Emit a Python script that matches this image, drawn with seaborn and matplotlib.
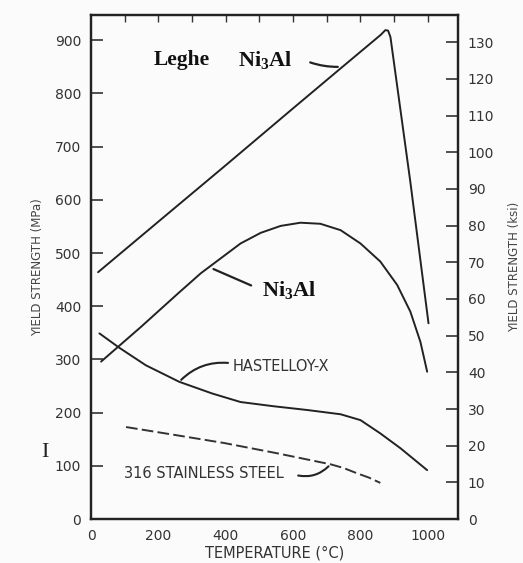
import numpy as np
import pandas as pd
import matplotlib
matplotlib.use("Agg")
import matplotlib.pyplot as plt
import seaborn as sns

# ---- data ----
leghe_T = [21, 200, 400, 600, 741, 860, 874, 882, 889, 948, 1002]
leghe_Y = [464, 559, 665, 772, 847, 910, 919, 918, 906, 634, 368]

ni3al_T = [30, 148, 260, 326, 385, 444, 504, 563, 622, 681, 741, 800, 859, 909, 948, 978, 998]
ni3al_Y = [296, 361, 425, 462, 490, 518, 538, 551, 557, 555, 543, 518, 484, 440, 390, 333, 277]

hast_T = [25, 84, 163, 262, 360, 444, 543, 642, 741, 800, 859, 919, 998]
hast_Y = [349, 322, 289, 258, 236, 220, 212, 205, 197, 186, 161, 133, 92]

ss_T = [104, 250, 395, 550, 711, 750, 790, 825, 859]
ss_Y = [173, 158, 143, 124, 103, 96, 86, 78, 68]

x_ticks = [0, 200, 400, 600, 800, 1000]
y_ticks = [0, 100, 200, 300, 400, 500, 600, 700, 800, 900]
ksi_ticks = list(range(0, 140, 10))

sns.set_style("white")
plt.rcParams['font.family'] = ['DejaVu Sans']
plt.rcParams['mathtext.default'] = 'regular'

fig = plt.figure(figsize=(5.23, 5.63), dpi=100)
fig.patch.set_facecolor("#fbfbfb")
ax = fig.add_axes([0.174, 0.078, 0.702, 0.895])
ax.set_facecolor("#fbfbfb")

frames = []
for name, T, Y in [("leghe", leghe_T, leghe_Y), ("ni3al", ni3al_T, ni3al_Y),
                   ("hast", hast_T, hast_Y), ("ss", ss_T, ss_Y)]:
    frames.append(pd.DataFrame({"T": T, "Y": Y, "alloy": name}))
df = pd.concat(frames, ignore_index=True)

for name in ["leghe", "ni3al", "hast"]:
    sns.lineplot(data=df[df.alloy == name], x="T", y="Y", ax=ax, color="#222222",
                 lw=1.4, sort=False, estimator=None)
sns.lineplot(data=df[df.alloy == "ss"], x="T", y="Y", ax=ax, color="#333333",
             lw=1.4, sort=False, estimator=None, dashes=False, linestyle=(0, (6, 2.2)))

ax.set_xlim(0, 1090)
ax.set_ylim(0, 947)
ax.set_xticks(x_ticks)
ax.set_xticks([100, 300, 500, 700, 900], minor=True)
ax.set_yticks(y_ticks)
ax.tick_params(axis="both", direction="in", length=8.5, width=1.2, labelsize=10,
               colors="#333333", pad=7)
ax.tick_params(axis="x", which="minor", direction="in", length=5, width=1)
ax.set_xlabel("TEMPERATURE (°C)", fontsize=10.5, color="#333333", labelpad=2)
ax.set_ylabel("YIELD STRENGTH (MPa)", fontsize=8.5, color="#444444", labelpad=8)
for s in ax.spines.values():
    s.set_linewidth(1.6)
    s.set_color("#222222")

top = ax.secondary_xaxis("top")
top.set_xticks(list(range(100, 1100, 100)))
top.tick_params(direction="in", length=5, width=1, labeltop=False, colors="#333333")
top.spines["top"].set_visible(False)

ax2 = ax.twinx()
ax2.set_ylim(0, 947 / 6.895)
ax2.set_yticks(ksi_ticks)
ax2.tick_params(axis="y", direction="in", length=8.5, width=1.2, labelsize=10,
                colors="#333333", pad=7)
ax2.set_ylabel("YIELD STRENGTH (ksi)", fontsize=8.5, color="#444444", labelpad=10)
for s in ax2.spines.values():
    s.set_linewidth(1.6)
    s.set_color("#222222")

serif = dict(family="Liberation Serif", fontweight="bold", color="#111111")
ax.text(186, 862, "Leghe", fontsize=15.5, ha="left", va="center", **serif)
ax.text(435, 862, "Ni$_3$Al", fontsize=16, ha="left", va="center", **serif)
ax.annotate("", xy=(741, 850), xytext=(643, 860),
            arrowprops=dict(arrowstyle="-", color="#222222", lw=1.6,
                            connectionstyle="arc3,rad=0.1"))
ax.text(508, 430, "Ni$_3$Al", fontsize=16, ha="left", va="center", **serif)
ax.annotate("", xy=(356, 472), xytext=(483, 437),
            arrowprops=dict(arrowstyle="-", color="#222222", lw=1.6,
                            connectionstyle="arc3,rad=0.0"))
ax.text(420, 287, "HASTELLOY-X", fontsize=10.5, ha="left", va="center", color="#333333")
ax.annotate("", xy=(262, 258), xytext=(415, 293),
            arrowprops=dict(arrowstyle="-", color="#222222", lw=1.5,
                            connectionstyle="arc3,rad=0.25"))
ax.text(98, 85, "316 STAINLESS STEEL", fontsize=10.5, ha="left", va="center", color="#333333")
ax.annotate("", xy=(711, 103), xytext=(607, 83),
            arrowprops=dict(arrowstyle="-", color="#222222", lw=1.5,
                            connectionstyle="arc3,rad=0.3"))

fig.text(0.086, 0.196, "I", fontsize=16, family="Liberation Serif", color="#222222",
         ha="center", va="center")

fig.savefig("out.png", dpi=100, facecolor=fig.get_facecolor())
